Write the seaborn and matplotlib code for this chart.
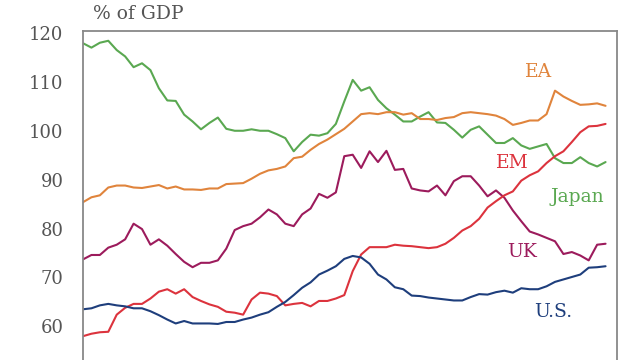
import numpy as np
import pandas as pd
import matplotlib
matplotlib.use("Agg")
import matplotlib.pyplot as plt
import seaborn as sns

japan = [117.9, 117.0, 118.0, 118.4, 116.5, 115.2, 113.0, 113.8, 112.4, 108.7,
         106.2, 106.1, 103.3, 101.9, 100.3, 101.6, 102.7, 100.4, 100.0, 100.0,
         100.3, 100.0, 100.0, 99.3, 98.5, 95.8, 97.7, 99.2, 99.0, 99.5,
         101.4, 106.0, 110.4, 108.2, 108.9, 106.3, 104.6, 103.3, 101.9, 101.9,
         102.9, 103.8, 101.7, 101.6, 100.2, 98.6, 100.2, 100.9, 99.2, 97.5,
         97.5, 98.5, 97.0, 96.3, 96.8, 97.3, 94.4, 93.4, 93.4, 94.6,
         93.4, 92.7, 93.6]
ea = [85.4, 86.4, 86.8, 88.4, 88.8, 88.8, 88.4, 88.3, 88.6, 88.9,
      88.2, 88.6, 88.0, 88.0, 87.9, 88.2, 88.2, 89.1, 89.2, 89.3,
      90.2, 91.2, 91.9, 92.2, 92.7, 94.4, 94.7, 96.1, 97.3, 98.2,
      99.3, 100.4, 101.9, 103.4, 103.6, 103.4, 103.8, 103.8, 103.3, 103.6,
      102.4, 102.4, 102.2, 102.6, 102.8, 103.6, 103.8, 103.6, 103.4, 103.1,
      102.4, 101.2, 101.6, 102.1, 102.1, 103.4, 108.2, 107.0, 106.1, 105.3,
      105.4, 105.6, 105.1]
uk = [73.7, 74.6, 74.6, 76.1, 76.7, 77.8, 81.0, 79.9, 76.7, 77.8,
      76.5, 74.8, 73.2, 72.1, 73.0, 73.0, 73.5, 75.9, 79.7, 80.5,
      81.0, 82.3, 83.9, 82.9, 81.0, 80.5, 82.9, 84.1, 87.1, 86.3,
      87.4, 94.8, 95.1, 92.4, 95.8, 93.6, 95.9, 92.0, 92.2, 88.2,
      87.8, 87.6, 88.8, 86.8, 89.7, 90.7, 90.7, 88.8, 86.6, 87.8,
      86.3, 83.7, 81.5, 79.4, 78.8, 78.1, 77.4, 74.8, 75.2, 74.5,
      73.5, 76.7, 76.9]
em = [58.0, 58.5, 58.8, 58.9, 62.4, 63.8, 64.6, 64.6, 65.7, 67.1,
      67.6, 66.7, 67.6, 66.0, 65.2, 64.5, 64.0, 63.0, 62.8, 62.4,
      65.5, 66.9, 66.7, 66.2, 64.3, 64.6, 64.8, 64.1, 65.2, 65.2,
      65.7, 66.4, 71.3, 74.7, 76.2, 76.2, 76.2, 76.7, 76.5, 76.4,
      76.2, 76.0, 76.2, 76.9, 78.1, 79.6, 80.5, 82.0, 84.3, 85.6,
      86.8, 87.6, 89.8, 90.9, 91.7, 93.4, 94.8, 95.8, 97.7, 99.7,
      100.9, 101.0, 101.4]
us = [63.5, 63.7, 64.3, 64.6, 64.3, 64.1, 63.7, 63.7, 63.1, 62.3,
      61.4, 60.6, 61.1, 60.6, 60.6, 60.6, 60.5, 60.9, 60.9, 61.4,
      61.8, 62.4, 62.9, 64.0, 65.0, 66.4, 67.9, 69.0, 70.6, 71.4,
      72.3, 73.8, 74.4, 74.1, 72.8, 70.6, 69.6, 68.0, 67.6, 66.3,
      66.2, 65.9, 65.7, 65.5, 65.3, 65.3, 66.0, 66.6, 66.5, 67.0,
      67.3, 66.9, 67.8, 67.6, 67.6, 68.2, 69.1, 69.6, 70.1, 70.6,
      72.0, 72.1, 72.3]

series_names = ["Japan", "EA", "UK", "EM", "U.S."]
colors = ["#5aa851", "#e0843c", "#9c1b5c", "#dc333d", "#1e3e7c"]
# label anchor: (quarter index, value)
label_pos = {"EA": (54.1, 112.0), "EM": (50.9, 93.5), "Japan": (58.6, 86.5),
             "UK": (52.1, 75.3), "U.S.": (55.8, 62.9)}

rows = []
for name, vals in zip(series_names, [japan, ea, uk, em, us]):
    for i, v in enumerate(vals):
        rows.append({"q": i, "value": v, "series": name})
df = pd.DataFrame(rows)

sns.set_style("white")
plt.rcParams["font.family"] = ["DejaVu Serif"]

fig = plt.figure(figsize=(6.4, 3.6), dpi=100)
ax = fig.add_axes([0.1297, -0.0194, 0.8336, 0.9333])

sns.lineplot(data=df, x="q", y="value", hue="series", hue_order=series_names,
             palette=colors, linewidth=1.5, legend=False, ax=ax)

for name, c in zip(series_names, colors):
    x, y = label_pos[name]
    ax.text(x, y, name, color=c, fontsize=13.5, ha="center", va="center")

ax.set_xlim(0, 63.3)
ax.set_ylim(51.7, 120.4)
ax.set_yticks([60, 70, 80, 90, 100, 110, 120])
ax.tick_params(axis="y", length=0, pad=14, labelsize=13, labelcolor="#555555")
ax.set_xticks([])
ax.set_xlabel("")
ax.set_ylabel("")
for s in ["left", "top", "right", "bottom"]:
    ax.spines[s].set_color("#888888")
    ax.spines[s].set_linewidth(1.3)

fig.text(93 / 640, 1 - 14 / 360, "% of GDP", fontsize=13.5, color="#555555",
         ha="left", va="center")

fig.savefig("out.png", dpi=100)
